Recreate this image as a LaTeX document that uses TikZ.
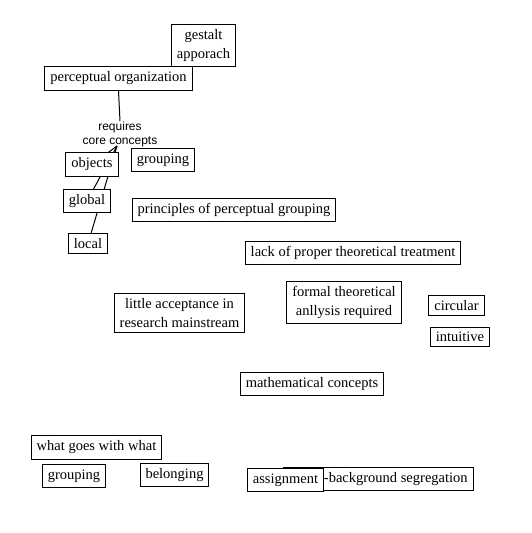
\documentclass[tikz,border=0pt]{standalone}
\usepackage{fontspec}
\setmainfont{Liberation Serif}
\newfontfamily\lsans{Liberation Sans}
\begin{document}
\begin{tikzpicture}[x=1pt,y=-1pt,
  box/.style={draw=black, fill=white, line width=1pt, inner xsep=5.5pt, inner ysep=5pt,
    font=\fontsize{14.5}{19}\selectfont, align=center},
  conn/.style={draw=black, line width=1pt},
  lbl/.style={font=\lsans\fontsize{12}{14}\selectfont, align=center, inner sep=0pt}]
\useasboundingbox[fill=white] (0,0) rectangle (532,533);
% connectors drawn first (hidden behind boxes)
\coordinate (cc) at (117,146);
\node[lbl] (req) at (120,134) {requires\\core concepts};
\coordinate (objc) at (92,164.5);
\coordinate (globc) at (87,201);
\coordinate (locc) at (88,243.5);
\draw[conn] (cc) -- (objc);
\draw[conn] (cc) -- (globc);
\draw[conn] (cc) -- (locc);
% nodes
\node[box] (gestalt) at (203.5,45.5) {gestalt\\apporach};
\node[box] (perc) at (118.5,78.5) {perceptual organization};
\draw[conn] (perc.south) -- (req.north);
\node[box] (objects) at (objc) {objects};
\node[box] (grouping1) at (163,160) {grouping};
\node[box] (global) at (globc) {global};
\node[box] (local) at (locc) {local};
\node[box] (principles) at (234,210) {principles of perceptual grouping};
\node[box] (lack) at (353,253) {lack of proper theoretical treatment};
\node[box] (formal) at (344,302.5) {formal theoretical\\anllysis required};
\node[box] (little) at (179.5,313) {little acceptance in\\research mainstream};
\node[box] (circular) at (456.5,305.5) {circular};
\node[box] (intuitive) at (460,337) {intuitive};
\node[box] (math) at (312,384) {mathematical concepts};
\node[box] (what) at (96.5,447.5) {what goes with what};
\node[box] (grouping2) at (74,476) {grouping};
\node[box] (belonging) at (174.5,475) {belonging};
\node[box] (figbg) at (378.5,479) {figure-background segregation};
\node[box] (assign) at (285.5,480) {assignment};
\end{tikzpicture}
\end{document}
